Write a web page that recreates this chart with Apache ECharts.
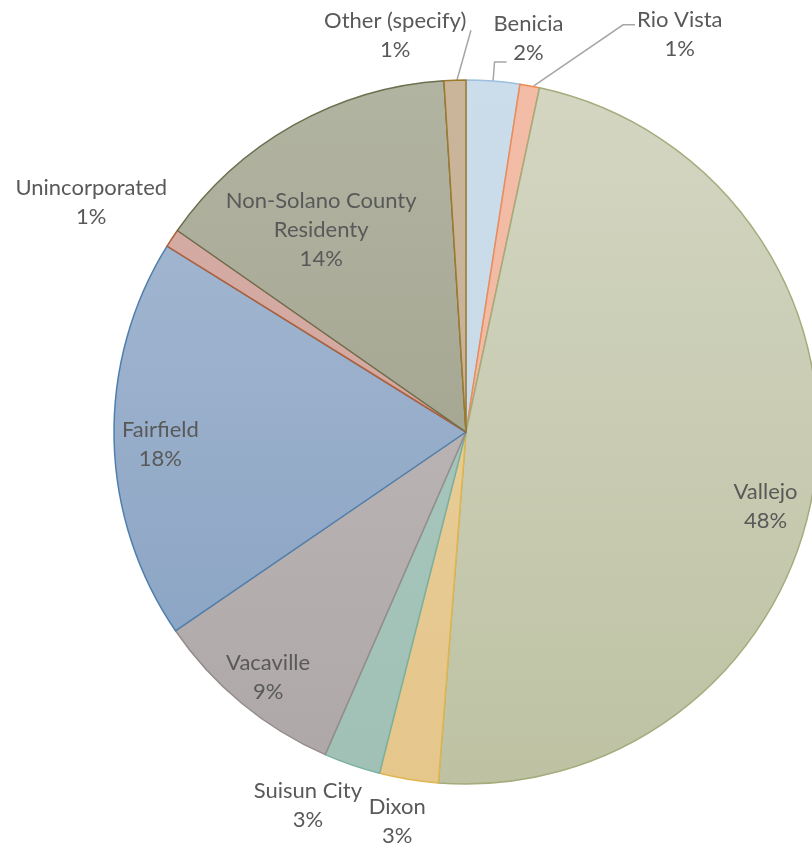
<!DOCTYPE html>
<html><head><meta charset="utf-8">
<script src="https://cdn.jsdelivr.net/npm/echarts@6/dist/echarts.min.js"></script>
<style>html,body{margin:0;padding:0;background:#fff}#c{width:812px;height:850px}</style>
</head><body><div id="c"></div>
<script>
// ---- data ----
const categories = ['Benicia', 'Rio Vista', 'Vallejo', 'Dixon', 'Suisun City', 'Vacaville', 'Fairfield', 'Unincorporated', 'Non-Solano County\nResidenty', 'Other (specify)'];
const shares = [2.45, 0.9, 47.9, 2.7, 2.6, 8.9, 18.4, 0.85, 14.3, 1.0];

// ---- styles ----
const fillTop    = ['#cbdcea', '#f2bca6', '#d4d6c2', '#eaD1a1', '#aacac1', '#c4bebe', '#a9bbd3', '#d5aca4', '#b2b4a2', '#cab59b'];
const fillBottom = ['#c6d8e7', '#f0b8a1', '#bec2a3', '#e5c68b', '#a1c1b7', '#aea7a7', '#85a0c1', '#d0a59c', '#9a9b85', '#c6b195'];
const borders    = ['#9cc0e0', '#ee8a55', '#a4ac7c', '#e0b54c', '#7ab0a2', '#968c8c', '#4f7fae', '#b0603a', '#6b704e', '#9c7a2e'];
const innerIdx = [2, 5, 6, 8];
const CX = 466, CY = 432, R = 352;
const TEXT = '#595959', FONT = 'Lato', FS = 22, LH = 29;

function grad(i) {
  return { type: 'linear', x: 0, y: CY - R, x2: 0, y2: CY + R, global: true,
    colorStops: [{ offset: 0, color: fillTop[i] }, { offset: 1, color: fillBottom[i] }] };
}
// outer label placement (line lengths, distance, vertical padding)
const outerCfg = {
  0: { len: 19, len2: 12, dist: -13, pad: [0, 0, 48, 0], line: true },
  1: { len: 62, len2: 94, dist: 2, pad: [20, 0, 0, 0], line: true },
  9: { len: 22, len2: 0, dist: -12, pad: [0, 0, 46, 0], line: true },
  7: { len: 0, len2: 0, dist: 5, pad: [0, 0, 72, 0], line: false },
  4: { len: 0, len2: 0, dist: -10, pad: [80, 0, 0, 0], line: false },
  3: { len: 0, len2: 0, dist: -17, pad: [85, 0, 0, 0], line: false }
};
const pctText = p => Math.round(p.percent) + '%';

const mainData = categories.map((name, i) => {
  const item = { name, value: shares[i],
    itemStyle: { color: grad(i), borderColor: borders[i], borderWidth: 1.5 } };
  const c = outerCfg[i];
  if (c) {
    item.label = { show: true, position: 'outside', distanceToLabelLine: c.dist, padding: c.pad };
    item.labelLine = { show: c.line, length: c.len, length2: c.len2 };
  } else {
    item.label = { show: false };
    item.labelLine = { show: false };
  }
  return item;
});
const innerData = categories.map((name, i) => ({
  name, value: shares[i],
  label: { show: innerIdx.includes(i) }
}));
const innerOffsets = { 2: [-3, 30], 5: [-3, 10], 6: [0, 6], 8: [5, 64] };

// reshape leader lines of Rio Vista (diagonal + short horizontal) and Other (slanted)
function mainLabelLayout(p) {
  const pts = p.labelLinePoints;
  if (!pts) return {};
  if (p.dataIndex === 1) {
    const a = pts[0], e = pts[pts.length - 1];
    return { labelLinePoints: [[a[0] + 4, a[1]], [e[0] - 12, e[1]], e] };
  }
  if (p.dataIndex === 9) {
    const a = pts[0];
    return { labelLinePoints: [[a[0] + 2, a[1]], [a[0] + 16, a[1] - 50], [a[0] + 16, a[1] - 50]] };
  }
  return {};
}

const chart = echarts.init(document.getElementById('c'), null, { renderer: 'canvas' });
chart.setOption({
  animation: false,
  backgroundColor: '#fff',
  series: [{
    type: 'pie', center: [CX, CY], radius: R, startAngle: 90, clockwise: true,
    avoidLabelOverlap: false, silent: true,
    data: mainData,
    label: {
      formatter: p => '{t|' + p.name + '}\n{t|' + pctText(p) + '}',
      rich: { t: { align: 'center', color: TEXT, fontFamily: FONT, fontSize: FS, lineHeight: LH } }
    },
    labelLine: { lineStyle: { color: '#a6a6a6', width: 1.5 }, smooth: false },
    labelLayout: mainLabelLayout
  }, {
    type: 'pie', center: [CX, CY], radius: [R * 0.72, R], startAngle: 90, clockwise: true,
    avoidLabelOverlap: false, silent: true,
    itemStyle: { color: 'rgba(0,0,0,0)', borderWidth: 0 },
    data: innerData,
    label: { position: 'inner', color: TEXT, fontFamily: FONT, fontSize: FS, lineHeight: LH, align: 'center',
      formatter: p => p.name + '\n' + pctText(p) },
    labelLine: { show: false },
    labelLayout: p => { const o = innerOffsets[p.dataIndex]; return o ? { dx: o[0], dy: o[1] } : {}; }
  }]
});
</script>
</body></html>
